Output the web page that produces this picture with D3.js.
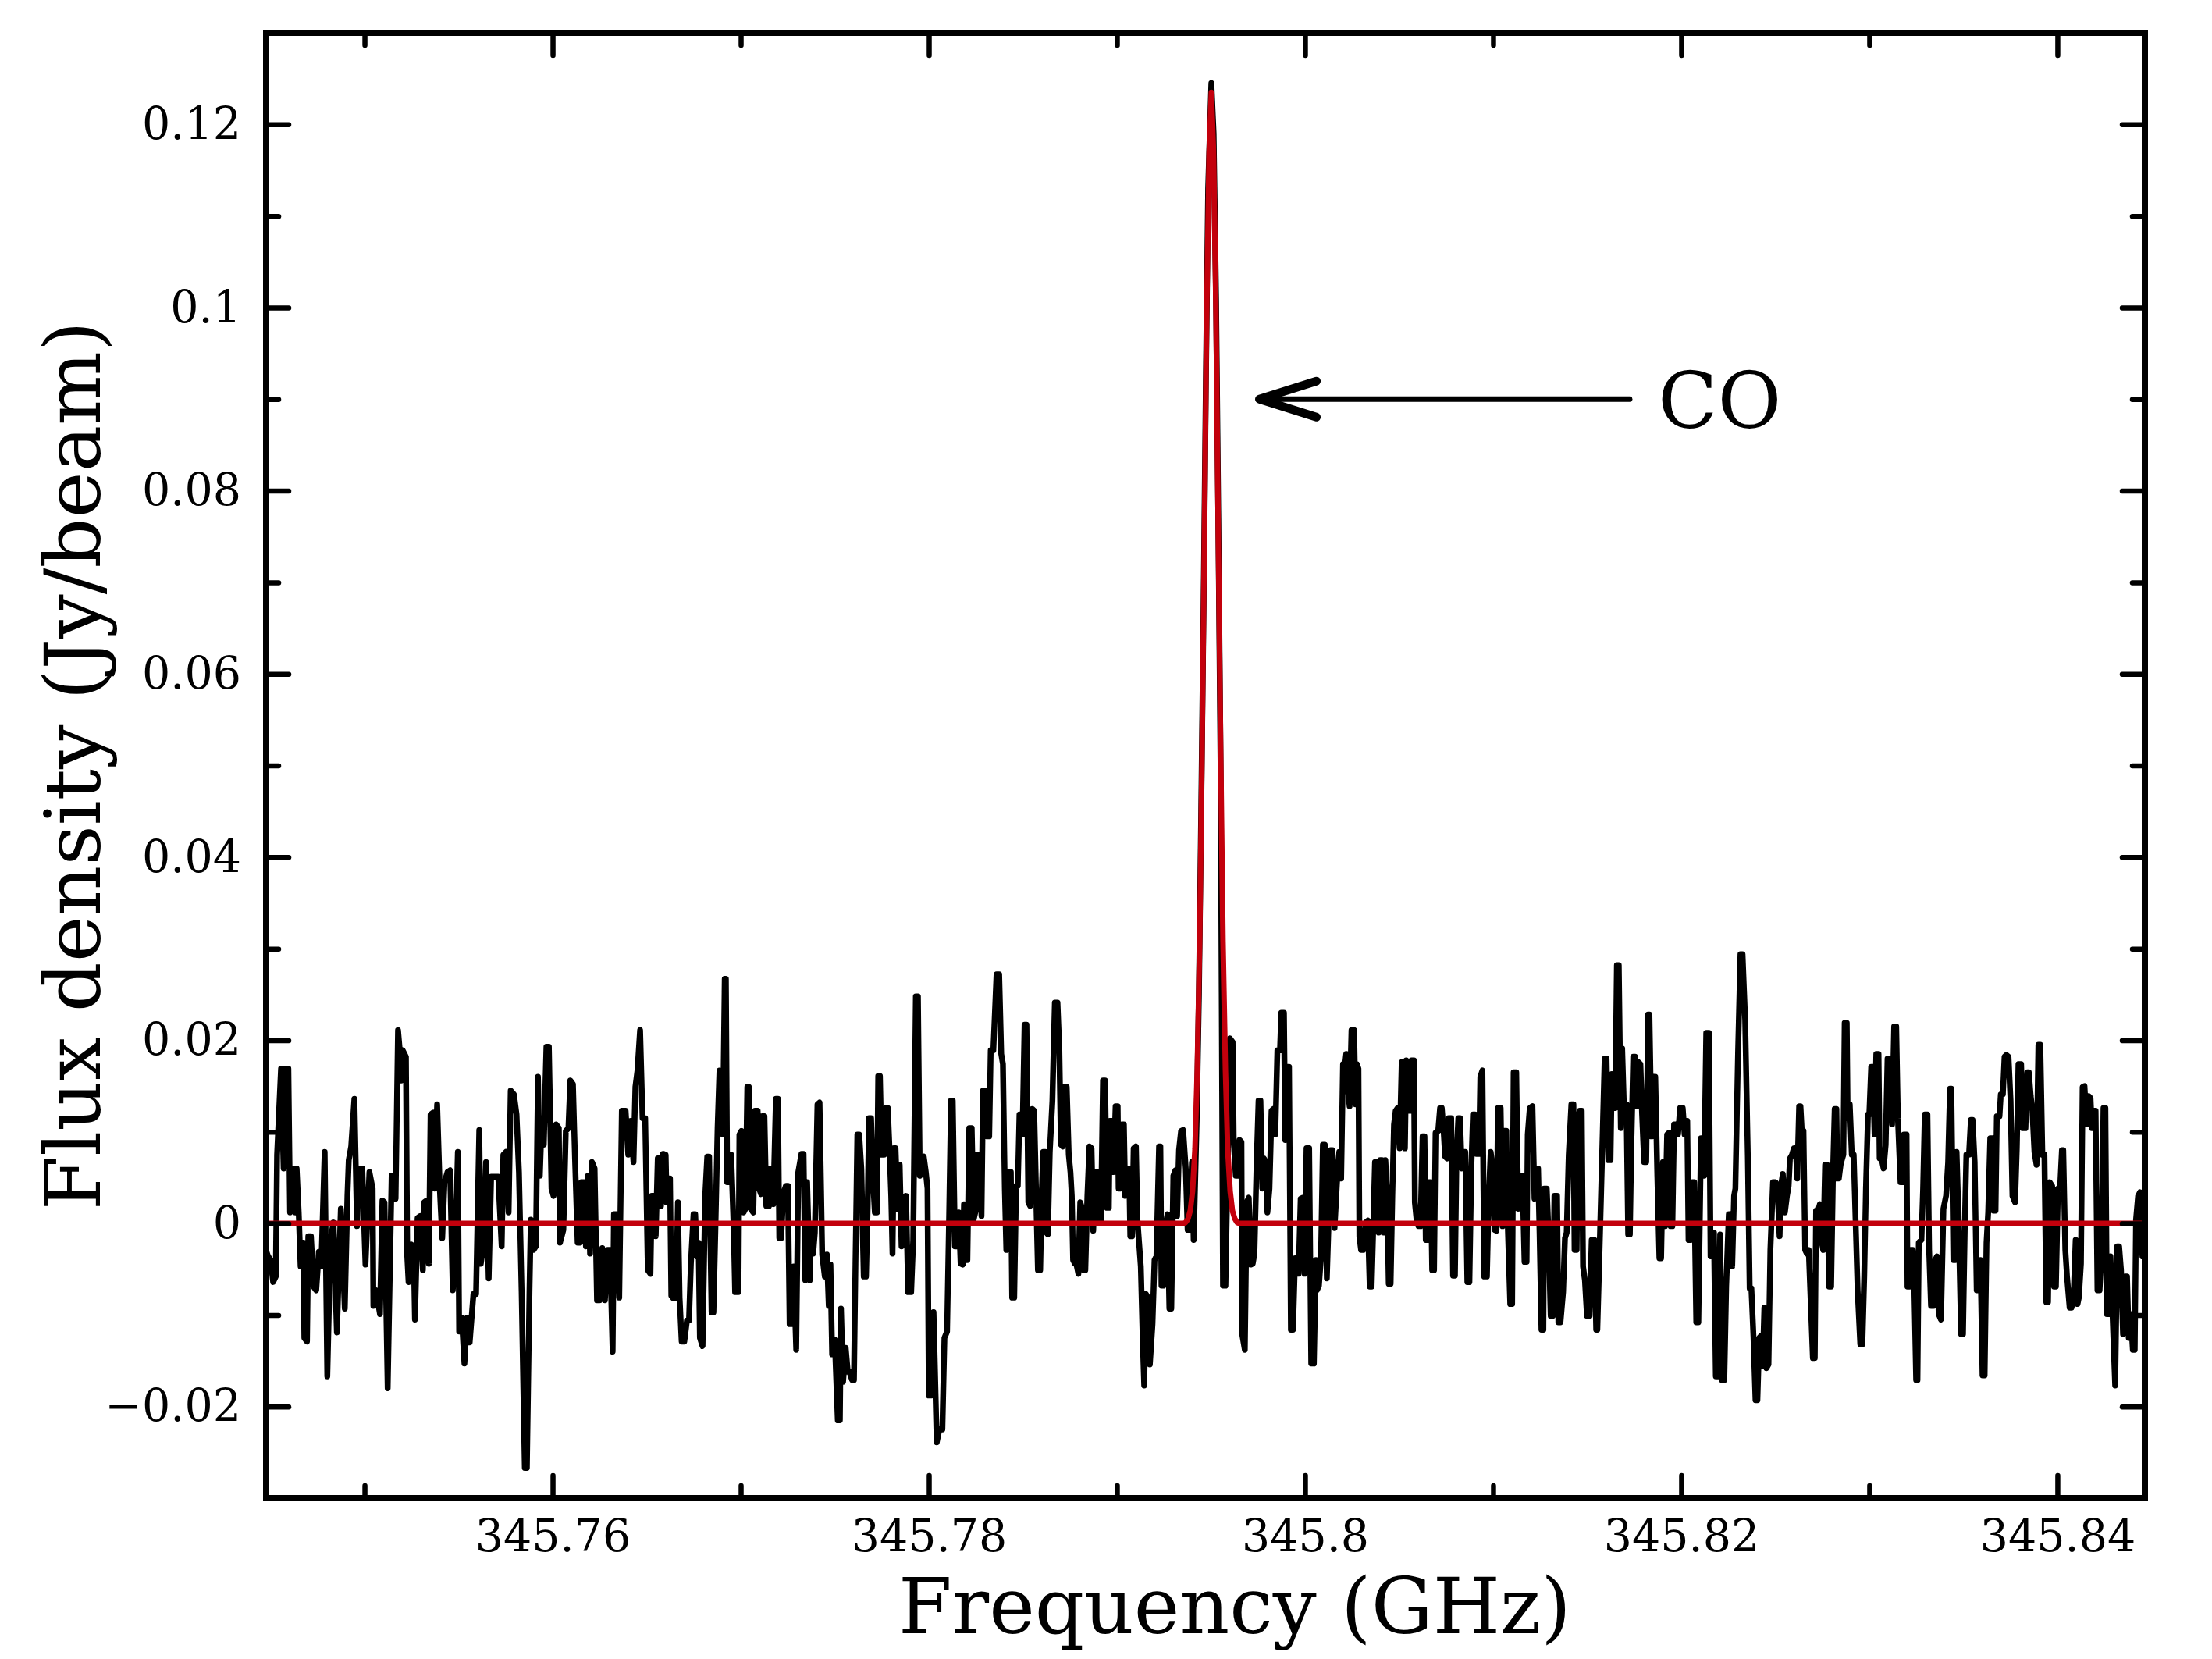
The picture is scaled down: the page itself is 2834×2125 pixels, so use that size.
<!DOCTYPE html>
<html>
<head>
<meta charset="utf-8">
<script src="https://cdn.jsdelivr.net/npm/d3@7/dist/d3.min.js"></script>
<style>
  html, body { margin: 0; padding: 0; background: #ffffff; }
  svg { display: block; }
</style>
</head>
<body>
<svg id="chart" width="2834" height="2125"></svg>
<script>
// ---------------- DATA ----------------
const xDomain = [345.74477, 345.84465];   // Frequency (GHz)
const yDomain = [-0.03, 0.13];            // Flux density (Jy/beam)

const xMajorTicks = [345.76, 345.78, 345.80, 345.82, 345.84];
const xMinorTicks = [345.75, 345.77, 345.79, 345.81, 345.83];
const yMajorTicks = [-0.02, 0, 0.02, 0.04, 0.06, 0.08, 0.10, 0.12];
const yMinorTicks = [-0.01, 0.01, 0.03, 0.05, 0.07, 0.09, 0.11];

const xLabel = "Frequency (GHz)";
const yLabel = "Flux density (Jy/beam)";
const lineLabel = "CO";
const arrowFrom = [345.81726, 0.0900];
const arrowTo   = [345.79745, 0.0900];
const labelAt   = [345.81876, 0.0869];

// observed spectrum, [frequency GHz, flux Jy/beam]
const observedA = [
[345.74477,-0.0030],[345.74487,-0.0036],[345.74501,-0.0040],[345.74514,-0.0064],[345.74528,-0.0058],[345.74535,0.0075],
[345.74556,0.0169],[345.74570,0.0060],[345.74577,0.0169],[345.74595,0.0169],[345.74604,0.0012],[345.74618,0.0060],
[345.74632,0.0012],[345.74639,0.0060],[345.74650,0.0012],[345.74660,-0.0047],[345.74674,-0.0021],[345.74680,-0.0125],
[345.74694,-0.0129],[345.74701,-0.0014],[345.74715,-0.0014],[345.74729,-0.0069],[345.74743,-0.0073],[345.74757,-0.0031],
[345.74770,-0.0047],[345.74788,0.0078],[345.74802,-0.0167],[345.74819,-0.0018],[345.74835,0.0001],[345.74853,-0.0119],
[345.74874,0.0016],[345.74895,-0.0093],[345.74909,0.0030],[345.74916,0.0069],[345.74929,0.0084],[345.74946,0.0136],
[345.74960,-0.0003],[345.74971,0.0060],[345.74988,0.0060],[345.75005,-0.0045],[345.75026,0.0056],[345.75043,0.0038],
[345.75047,-0.0090],[345.75061,-0.0073],[345.75082,-0.0099],[345.75095,0.0025],[345.75106,0.0023],[345.75123,-0.0180],
[345.75144,0.0052],[345.75165,0.0027],[345.75178,0.0211],[345.75189,0.0185],[345.75195,0.0156],[345.75203,0.0189],
[345.75220,0.0182],[345.75227,-0.0036],[345.75234,-0.0064],[345.75248,-0.0023],[345.75261,-0.0025],[345.75268,-0.0105],
[345.75282,0.0006],[345.75296,0.0008],[345.75310,-0.0051],[345.75317,0.0023],[345.75330,0.0025],[345.75342,-0.0044],
[345.75351,0.0119],[345.75365,0.0121],[345.75372,0.0038],[345.75386,0.0130],[345.75400,0.0038],[345.75413,-0.0016],
[345.75425,0.0045],[345.75441,0.0056],[345.75455,0.0058],[345.75469,-0.0073],[345.75483,-0.0031],[345.75496,0.0078],
[345.75503,-0.0118],[345.75517,-0.0103],[345.75531,-0.0153],[345.75545,-0.0103],[345.75559,-0.0130],[345.75579,-0.0077],
[345.75593,-0.0077],[345.75610,0.0102],[345.75618,-0.0044],[345.75635,-0.0020],[345.75646,0.0067],[345.75660,-0.0060],
[345.75673,0.0051],[345.75687,0.0051],[345.75711,0.0051],[345.75729,-0.0025],[345.75738,0.0075],[345.75752,0.0078],
[345.75766,0.0012],[345.75777,0.0145],[345.75794,0.0141],[345.75808,0.0119],[345.75821,0.0056],[345.75835,-0.0073],
[345.75852,-0.0267],[345.75863,-0.0267],[345.75877,-0.0073],[345.75884,0.0004],[345.75898,-0.0029],[345.75911,-0.0025],
[345.75922,0.0160],[345.75932,0.0052],[345.75942,0.0112],[345.75953,0.0086],[345.75967,0.0193],[345.75980,0.0193],
[345.75994,0.0038],[345.76005,0.0030],[345.76019,0.0108],[345.76033,0.0104],[345.76039,-0.0021],[345.76057,-0.0007],
[345.76070,0.0101],[345.76084,0.0104],[345.76094,0.0156],[345.76108,0.0152],[345.76119,0.0071],[345.76133,-0.0021],
[345.76146,-0.0021],[345.76153,0.0045],[345.76167,0.0045],[345.76177,-0.0025],[345.76188,0.0052],[345.76199,-0.0033],
[345.76209,0.0067],[345.76223,0.0060],[345.76236,-0.0084],[345.76250,-0.0084],[345.76264,-0.0027],[345.76278,-0.0084],
[345.76292,-0.0029],[345.76305,-0.0029],[345.76319,-0.0140],[345.76326,0.0010],[345.76340,0.0010],[345.76354,-0.0081],
[345.76368,0.0123],[345.76388,0.0123],[345.76402,0.0075],[345.76416,0.0112],[345.76430,0.0067],[345.76440,0.0149],
[345.76451,0.0167],[345.76465,0.0211],[345.76478,0.0115],[345.76492,0.0115],[345.76506,-0.0051],[345.76520,-0.0055],
[345.76527,0.0030],[345.76541,0.0030]
];

const observedB = [
[345.76548,-0.0014],[345.76559,0.0071],[345.76569,0.0071],[345.76576,0.0019],[345.76587,0.0076],[345.76601,0.0075],
[345.76606,0.0023],[345.76614,0.0049],[345.76624,0.0049],[345.76631,-0.0079],[345.76642,-0.0082],[345.76656,-0.0082],
[345.76666,0.0023],[345.76675,-0.0081],[345.76686,-0.0129],[345.76700,-0.0129],[345.76714,-0.0106],[345.76725,-0.0106],
[345.76735,-0.0044],[345.76749,0.0010],[345.76758,0.0010],[345.76767,-0.0036],[345.76776,-0.0021],[345.76783,-0.0125],
[345.76797,-0.0134],[345.76811,0.0030],[345.76822,0.0073],[345.76832,0.0073],[345.76845,-0.0097],[345.76855,-0.0097],
[345.76866,0.0001],[345.76877,0.0104],[345.76887,0.0167],[345.76894,0.0108],[345.76905,0.0097],[345.76915,0.0267],
[345.76921,0.0267],[345.76928,0.0045],[345.76938,0.0045],[345.76949,0.0075],[345.76963,-0.0007],[345.76970,-0.0075],
[345.76988,-0.0075],[345.76993,0.0097],[345.77004,0.0101],[345.77015,0.0012],[345.77025,0.0016],[345.77035,0.0149],
[345.77043,0.0149],[345.77053,0.0016],[345.77067,0.0012],[345.77076,0.0123],[345.77090,0.0123],[345.77098,0.0038],
[345.77108,0.0032],[345.77115,0.0117],[345.77126,0.0117],[345.77136,0.0019],[345.77150,0.0019],[345.77157,0.0060],
[345.77163,0.0060],[345.77173,0.0021],[345.77187,0.0136],[345.77198,0.0136],[345.77205,-0.0016],[345.77215,-0.0016],
[345.77226,0.0032],[345.77240,0.0041],[345.77251,0.0041],[345.77260,-0.0110],[345.77270,-0.0110],[345.77281,-0.0047],
[345.77295,-0.0138],[345.77306,0.0056],[345.77323,0.0076],[345.77334,0.0076],[345.77343,-0.0062],[345.77353,0.0045],
[345.77367,-0.0062],[345.77375,-0.0003],[345.77385,-0.0033],[345.77394,-0.0010],[345.77408,0.0130],[345.77419,0.0132],
[345.77433,-0.0034],[345.77447,-0.0058],[345.77458,-0.0034],[345.77468,-0.0090],[345.77477,-0.0045],[345.77486,-0.0143],
[345.77500,-0.0127],[345.77516,-0.0215],[345.77527,-0.0215],[345.77533,-0.0093],[345.77544,-0.0173],[345.77558,-0.0136],
[345.77569,-0.0162],[345.77578,-0.0162],[345.77592,-0.0171],[345.77602,-0.0171],[345.77610,-0.0044],[345.77620,0.0097],
[345.77630,0.0097],[345.77641,0.0060],[345.77654,-0.0058],[345.77666,-0.0058],[345.77675,0.0019],[345.77682,0.0115],
[345.77693,0.0115],[345.77703,0.0049],[345.77713,0.0012],[345.77724,0.0012],[345.77731,0.0161],[345.77740,0.0161],
[345.77749,0.0075],[345.77762,0.0075],[345.77772,0.0126],[345.77782,0.0126],[345.77790,0.0086],[345.77800,0.0030],
[345.77807,-0.0033],[345.77814,0.0082],[345.77823,0.0082],[345.77834,0.0016],[345.77845,0.0064],[345.77855,-0.0025],
[345.77869,0.0004],[345.77879,0.0030],[345.77890,-0.0075],[345.77906,-0.0075],[345.77917,-0.0018],[345.77931,0.0248],
[345.77942,0.0248],[345.77952,0.0052],[345.77962,0.0071],[345.77973,0.0073],[345.77984,0.0056],[345.77993,0.0038],
[345.78000,-0.0188],[345.78011,-0.0188],[345.78025,-0.0097],[345.78042,-0.0239],[345.78056,-0.0225],[345.78072,-0.0225],
[345.78083,-0.0125],[345.78097,-0.0118],[345.78108,0.0008],[345.78118,0.0134],[345.78127,0.0134],[345.78139,-0.0025],
[345.78150,-0.0025],[345.78159,0.0012],[345.78169,-0.0044],[345.78180,-0.0045],[345.78187,0.0021],[345.78194,-0.0040],
[345.78205,-0.0040],[345.78215,0.0104],[345.78228,0.0104],[345.78238,0.0004],[345.78249,0.0014],[345.78256,0.0075],
[345.78270,0.0075],[345.78280,0.0008],[345.78288,0.0145],[345.78302,0.0145],[345.78311,0.0095],[345.78321,0.0095],
[345.78329,0.0189],[345.78343,0.0189],[345.78360,0.0272],[345.78374,0.0272],[345.78385,0.0185],[345.78394,0.0174],
[345.78404,0.0038],[345.78412,-0.0029],[345.78422,0.0056],[345.78436,0.0056],[345.78443,-0.0081],[345.78454,-0.0081],
[345.78464,0.0041],[345.78473,0.0041],[345.78482,0.0119],[345.78491,0.0119],[345.78498,0.0097],[345.78509,0.0217],
[345.78519,0.0217],[345.78529,0.0023]
];

const observedC = [
[345.78539,0.0019],[345.78550,0.0125],[345.78560,0.0123],[345.78569,0.0045],[345.78580,-0.0051],[345.78592,-0.0051],
[345.78601,0.0038],[345.78608,0.0078],[345.78619,0.0078],[345.78625,-0.0010],[345.78633,-0.0012],[345.78643,0.0078],
[345.78657,0.0134],[345.78663,0.0185],[345.78670,0.0241],[345.78684,0.0241],[345.78694,0.0189],[345.78702,0.0086],
[345.78712,0.0084],[345.78719,0.0149],[345.78733,0.0149],[345.78744,0.0075],[345.78753,0.0056],[345.78760,0.0030],
[345.78767,-0.0040],[345.78777,-0.0044],[345.78785,-0.0045],[345.78795,-0.0055],[345.78805,0.0023],[345.78816,0.0016],
[345.78823,-0.0051],[345.78832,-0.0051],[345.78843,0.0030],[345.78854,0.0084],[345.78865,0.0082],[345.78874,-0.0008],
[345.78885,0.0056],[345.78896,0.0056],[345.78906,0.0004],[345.78915,0.0004],[345.78926,0.0156],[345.78937,0.0156],
[345.78947,0.0017],[345.78957,0.0017],[345.78962,0.0112],[345.78975,0.0112],[345.78982,0.0056],[345.78993,0.0128],
[345.79004,0.0128],[345.79009,0.0038],[345.79020,0.0038],[345.79026,0.0108],[345.79037,0.0108],[345.79044,0.0030],
[345.79053,0.0060],[345.79065,0.0060],[345.79071,-0.0014],[345.79081,-0.0014],[345.79089,0.0082],[345.79101,0.0084],
[345.79109,0.0004],[345.79127,-0.0047],[345.79137,-0.0125],[345.79145,-0.0177],[345.79154,-0.0077],[345.79164,-0.0081],
[345.79175,-0.0154],[345.79189,-0.0110],[345.79200,-0.0040],[345.79210,-0.0036],[345.79224,0.0084],[345.79231,0.0084],
[345.79237,-0.0068],[345.79247,-0.0068],[345.79258,-0.0003],[345.79269,0.0010],[345.79279,-0.0093],[345.79289,-0.0093],
[345.79300,0.0052],[345.79311,0.0058],[345.79320,0.0008],[345.79330,0.0080],[345.79341,0.0101],[345.79352,0.0102],
[345.79366,0.0060],[345.79376,-0.0007],[345.79385,-0.0007],[345.79399,0.0067]
];

const observedLine = [
[345.79408,-0.0018],[345.79424,0.0112],[345.79436,0.0250],[345.79448,0.0450],[345.79461,0.0680],[345.79473,0.0920],
[345.79485,0.1130],[345.79502,0.1245],[345.79514,0.1190],[345.79527,0.1010],[345.79539,0.0770],[345.79552,0.0480],
[345.79564,-0.0068],[345.79577,-0.0068],[345.79601,0.0202]
];

const observedD = [
[345.79615,0.0198],[345.79621,0.0089],[345.79632,0.0052],[345.79643,0.0052],[345.79652,0.0091],[345.79662,0.0089],
[345.79666,-0.0121],[345.79680,-0.0138],[345.79690,0.0023],[345.79701,0.0028],[345.79712,-0.0045],[345.79722,-0.0044],
[345.79731,-0.0033],[345.79742,0.0060],[345.79753,0.0134],[345.79763,0.0134],[345.79773,0.0038],[345.79781,0.0071],
[345.79791,0.0067],[345.79800,0.0012],[345.79811,0.0038],[345.79822,0.0123],[345.79832,0.0125],[345.79842,0.0097],
[345.79853,0.0189],[345.79867,0.0189],[345.79874,0.0230],[345.79888,0.0230],[345.79895,0.0091],[345.79901,0.0171],
[345.79915,0.0171],[345.79925,-0.0116],[345.79936,-0.0116],[345.79947,-0.0038],[345.79957,-0.0038],[345.79966,-0.0055],
[345.79977,0.0027],[345.79988,0.0028],[345.79998,-0.0055],[345.80008,0.0082],[345.80022,0.0082],[345.80033,-0.0153],
[345.80047,-0.0153],[345.80058,-0.0040],[345.80063,-0.0073],[345.80074,-0.0068],[345.80085,-0.0036],[345.80095,0.0086],
[345.80105,0.0086],[345.80116,-0.0060],[345.80127,0.0012],[345.80136,0.0080],[345.80146,0.0080],[345.80157,-0.0005],
[345.80171,0.0049],[345.80182,0.0078],[345.80192,0.0049],[345.80202,0.0174],[345.80213,0.0174],[345.80219,0.0185],
[345.80229,0.0145],[345.80237,0.0128],[345.80247,0.0211],[345.80261,0.0211],[345.80268,0.0130],[345.80276,0.0174],
[345.80284,0.0169],[345.80289,-0.0014],[345.80298,-0.0029],[345.80309,-0.0029],[345.80323,0.0001],[345.80334,0.0003],
[345.80344,-0.0069],[345.80354,-0.0069],[345.80362,-0.0010],[345.80372,0.0067],[345.80381,0.0067],[345.80392,-0.0010],
[345.80399,0.0069],[345.80409,0.0069],[345.80417,-0.0010],[345.80427,0.0069],[345.80437,0.0030],[345.80445,-0.0066],
[345.80455,-0.0066],[345.80464,0.0030],[345.80473,0.0108],[345.80482,0.0123],[345.80492,0.0126],[345.80503,0.0082],
[345.80514,0.0176],[345.80524,0.0176]
];

const observedE = [
[345.80531,0.0082],[345.80538,0.0178],[345.80548,0.0123],[345.80556,0.0123],[345.80566,0.0178],[345.80579,0.0178],
[345.80584,0.0023],[345.80593,0.0004],[345.80603,-0.0003],[345.80614,-0.0003],[345.80625,0.0095],[345.80635,0.0095],
[345.80642,-0.0018],[345.80653,-0.0018],[345.80658,0.0045],[345.80669,0.0045],[345.80676,-0.0051],[345.80686,-0.0051],
[345.80694,0.0099],[345.80708,0.0101],[345.80718,0.0126],[345.80727,0.0126],[345.80738,0.0097],[345.80745,0.0073],
[345.80755,0.0071],[345.80763,0.0115],[345.80777,0.0115],[345.80787,-0.0057],[345.80797,-0.0057],[345.80805,0.0071],
[345.80815,0.0115],[345.80824,0.0115],[345.80833,0.0060],[345.80842,0.0078],[345.80852,0.0078],[345.80863,-0.0064],
[345.80874,-0.0064],[345.80884,0.0060],[345.80893,0.0119],[345.80904,0.0119],[345.80911,0.0076],[345.80925,0.0076],
[345.80932,0.0160],[345.80943,0.0167],[345.80953,-0.0058],[345.80967,-0.0058],[345.80976,0.0023],[345.80987,0.0078],
[345.80998,0.0060],[345.81008,-0.0007],[345.81018,-0.0008],[345.81026,0.0126],[345.81040,0.0126],[345.81050,-0.0003],
[345.81057,0.0101],[345.81070,0.0101],[345.81077,0.0004],[345.81091,-0.0088],[345.81101,-0.0088],[345.81109,0.0165],
[345.81123,0.0165],[345.81133,0.0016],[345.81142,0.0052],[345.81156,0.0052],[345.81167,-0.0042],[345.81178,-0.0042],
[345.81184,0.0097],[345.81195,0.0126],[345.81209,0.0128],[345.81220,0.0027],[345.81229,0.0060],[345.81239,0.0060],
[345.81247,-0.0010],[345.81257,-0.0116],[345.81267,-0.0116],[345.81271,0.0038],[345.81285,0.0038],[345.81294,-0.0007],
[345.81306,-0.0101],[345.81317,-0.0101],[345.81326,0.0030],[345.81340,0.0030],[345.81347,-0.0108],[345.81358,-0.0108],
[345.81372,-0.0075],[345.81382,-0.0016],[345.81391,-0.0010],[345.81402,0.0075],[345.81416,0.0130],[345.81427,0.0130],
[345.81433,-0.0029],[345.81444,-0.0029],[345.81451,0.0113],[345.81460,0.0123],[345.81471,0.0123],[345.81478,-0.0047],
[345.81488,-0.0062],[345.81499,-0.0101],[345.81513,-0.0101],[345.81524,-0.0018],[345.81538,-0.0018],[345.81548,-0.0116],
[345.81554,-0.0116],[345.81565,-0.0036],[345.81579,0.0071],[345.81593,0.0180],[345.81603,0.0180],[345.81613,0.0069],
[345.81624,0.0069],[345.81631,0.0163],[345.81640,0.0126],[345.81649,0.0126],[345.81658,0.0282],[345.81668,0.0282],
[345.81679,0.0104],[345.81686,0.0191],[345.81695,0.0130],[345.81709,0.0130],[345.81718,-0.0012],[345.81727,-0.0012],
[345.81734,0.0078],[345.81745,0.0182],[345.81755,0.0182],[345.81765,0.0128],[345.81773,0.0176],[345.81783,0.0174],
[345.81792,0.0119],[345.81803,0.0067],[345.81814,0.0067],[345.81824,0.0228],[345.81831,0.0228],[345.81842,0.0095],
[345.81852,0.0160],[345.81862,0.0160],[345.81873,0.0052],[345.81884,-0.0038],[345.81893,-0.0038],[345.81903,0.0067],
[345.81914,-0.0003],[345.81925,0.0097],[345.81935,0.0099],[345.81944,-0.0003],[345.81953,-0.0003],[345.81962,0.0108],
[345.81972,0.0108],[345.81983,0.0097],[345.81994,0.0126],[345.82008,0.0126],[345.82018,0.0097],[345.82032,0.0112],
[345.82039,-0.0018],[345.82050,-0.0018],[345.82059,0.0045],[345.82069,0.0045],[345.82080,-0.0108],[345.82091,-0.0108],
[345.82105,0.0093],[345.82115,0.0093],[345.82122,0.0052],[345.82133,0.0208],[345.82147,0.0208],[345.82156,-0.0036],
[345.82166,-0.0036],[345.82174,-0.0010],[345.82184,-0.0167],[345.82198,-0.0167],[345.82207,-0.0012],[345.82216,-0.0171],
[345.82229,-0.0171],[345.82239,-0.0069],[345.82253,0.0010],[345.82263,0.0010],[345.82271,-0.0047],[345.82281,0.0030],
[345.82288,0.0038],[345.82302,0.0185],[345.82315,0.0294],[345.82326,0.0294],[345.82340,0.0222],[345.82354,0.0075],
[345.82364,-0.0071],[345.82373,-0.0071],[345.82384,-0.0123],[345.82395,-0.0193],[345.82405,-0.0193],[345.82415,-0.0125],
[345.82423,-0.0123],[345.82433,-0.0156],[345.82442,-0.0092],[345.82453,-0.0158],[345.82464,-0.0154],[345.82474,-0.0029],
[345.82488,0.0045],[345.82502,0.0045],[345.82512,0.0038]
];

const observedF = [
[345.82523,-0.0014],[345.82530,0.0041],[345.82540,0.0054],[345.82551,0.0012],[345.82562,0.0030],[345.82571,0.0041],
[345.82578,0.0071],[345.82589,0.0075],[345.82599,0.0082],[345.82609,0.0082],[345.82617,0.0049],[345.82627,0.0128],
[345.82634,0.0128],[345.82641,0.0101],[345.82650,0.0101],[345.82659,-0.0029],[345.82668,-0.0033],[345.82678,-0.0029],
[345.82689,-0.0088],[345.82700,-0.0147],[345.82710,-0.0147],[345.82717,0.0014],[345.82728,0.0014],[345.82737,0.0021],
[345.82747,-0.0020],[345.82755,-0.0029],[345.82765,0.0064],[345.82775,0.0064],[345.82786,-0.0069],[345.82797,-0.0069],
[345.82807,0.0056],[345.82816,0.0125],[345.82825,0.0125],[345.82830,0.0049],[345.82838,0.0049],[345.82848,0.0065],
[345.82862,0.0075],[345.82869,0.0219],[345.82880,0.0219],[345.82885,0.0115],[345.82896,0.0130],[345.82907,0.0075],
[345.82917,0.0075],[345.82927,0.0004],[345.82938,-0.0073],[345.82952,-0.0132],[345.82963,-0.0132],[345.82973,-0.0058],
[345.82982,0.0038],[345.82993,0.0119],[345.83000,0.0119],[345.83010,0.0171],[345.83018,0.0171],[345.83028,0.0097],
[345.83037,0.0185],[345.83049,0.0185],[345.83055,0.0071],[345.83065,0.0071],[345.83076,0.0060],[345.83087,0.0086],
[345.83097,0.0180],[345.83111,0.0180],[345.83121,0.0108],[345.83132,0.0215],[345.83143,0.0215],[345.83152,0.0115],
[345.83166,0.0045],[345.83176,0.0045],[345.83184,0.0097],[345.83198,0.0097],[345.83203,-0.0069],[345.83215,-0.0069],
[345.83221,-0.0029],[345.83231,-0.0029],[345.83239,-0.0068],[345.83249,-0.0171],[345.83256,-0.0171],[345.83263,-0.0021],
[345.83277,-0.0018],[345.83286,0.0038],[345.83295,0.0119],[345.83309,0.0119],[345.83318,-0.0029],[345.83328,-0.0090],
[345.83342,-0.0090],[345.83350,-0.0040],[345.83360,-0.0036],[345.83369,-0.0099],[345.83381,-0.0105],[345.83394,0.0016],
[345.83408,0.0030],[345.83419,0.0067],[345.83429,0.0147],[345.83436,0.0147],[345.83447,-0.0040],[345.83457,-0.0040],
[345.83464,0.0078],[345.83475,0.0001],[345.83488,-0.0121],[345.83498,-0.0121],[345.83508,0.0001],[345.83516,0.0075],
[345.83530,0.0075],[345.83540,0.0113],[345.83549,0.0113],[345.83560,0.0067],[345.83571,-0.0073],[345.83581,-0.0073],
[345.83591,-0.0040],[345.83602,-0.0166],[345.83613,-0.0166],[345.83623,-0.0021],[345.83632,0.0012],[345.83643,0.0093],
[345.83654,0.0093],[345.83660,0.0014],[345.83671,0.0014],[345.83678,0.0117],[345.83692,0.0117],[345.83699,0.0141],
[345.83710,0.0141],[345.83719,0.0182],[345.83729,0.0184],[345.83740,0.0182],[345.83751,0.0134],[345.83761,0.0030],
[345.83775,0.0023],[345.83784,0.0082],[345.83793,0.0174],[345.83807,0.0174],[345.83816,0.0104],[345.83830,0.0104],
[345.83840,0.0165],[345.83848,0.0165],[345.83858,0.0139],[345.83867,0.0123],[345.83878,0.0078],[345.83889,0.0064],
[345.83899,0.0195],[345.83909,0.0195],[345.83920,0.0075],[345.83931,0.0075],[345.83941,-0.0086],[345.83950,-0.0086],
[345.83959,0.0045],[345.83972,0.0041],[345.83982,-0.0069],[345.83992,-0.0069],[345.84003,0.0038],[345.84014,0.0038],
[345.84024,0.0080],[345.84031,0.0080],[345.84042,-0.0029],[345.84051,-0.0058],[345.84065,-0.0092],[345.84075,-0.0092],
[345.84086,-0.0081],[345.84097,-0.0018],[345.84107,-0.0088],[345.84114,-0.0081],[345.84125,-0.0044],[345.84134,0.0149],
[345.84144,0.0150],[345.84155,0.0108],[345.84166,0.0139],[345.84176,0.0137],[345.84183,0.0104],[345.84194,0.0123],
[345.84203,0.0123],[345.84213,-0.0073],[345.84224,-0.0073],[345.84235,-0.0033],[345.84245,0.0126],[345.84255,0.0126],
[345.84263,-0.0099],[345.84273,-0.0099],[345.84282,-0.0036],[345.84293,-0.0099],[345.84307,-0.0177],[345.84318,-0.0025],
[345.84328,-0.0025],[345.84338,-0.0051],[345.84349,-0.0121],[345.84360,-0.0058],[345.84370,-0.0058],[345.84379,-0.0125],
[345.84390,-0.0099],[345.84401,-0.0138],[345.84411,-0.0138],[345.84418,0.0004],[345.84429,0.0030],[345.84439,0.0034],
[345.84445,0.0004],[345.84452,-0.0036],[345.84459,-0.0036],[345.84466,-0.0018]
];

// fitted line profile (red), [frequency GHz, flux Jy/beam]
const fitProfile = [
[345.74477,0],[345.79353,0],[345.79365,0.0001],[345.79378,0.0005],[345.79390,0.0014],[345.79402,0.0035],
[345.79415,0.0081],[345.79427,0.0167],[345.79440,0.0308],[345.79452,0.0508],[345.79465,0.0749],[345.79477,0.0990],
[345.79490,0.1168],[345.79502,0.1235],[345.79514,0.1168],[345.79527,0.0990],[345.79539,0.0749],[345.79552,0.0508],
[345.79564,0.0308],[345.79577,0.0167],[345.79589,0.0081],[345.79602,0.0035],[345.79614,0.0014],[345.79627,0.0005],
[345.79639,0.0001],[345.79651,0],[345.84465,0]
];

// ---------------- CHART ----------------
const W = 2834, H = 2125;
const plot = { left: 341, right: 2748, top: 42, bottom: 1919 };
const FONT = "'DejaVu Serif', 'Liberation Serif', serif";
const RED = "#c3000c";

const svg = d3.select("#chart").attr("viewBox", `0 0 ${W} ${H}`);
svg.append("rect").attr("width", W).attr("height", H).attr("fill", "#ffffff");

const x = d3.scaleLinear().domain(xDomain).range([plot.left, plot.right]);
const y = d3.scaleLinear().domain(yDomain).range([plot.bottom, plot.top]);

svg.append("clipPath").attr("id", "plotClip")
  .append("rect")
  .attr("x", plot.left).attr("y", plot.top)
  .attr("width", plot.right - plot.left).attr("height", plot.bottom - plot.top);

const observed = [].concat(observedA, observedB, observedC, observedLine, observedD, observedE, observedF);

const line = d3.line().x(d => x(d[0])).y(d => y(d[1]));

const gData = svg.append("g").attr("clip-path", "url(#plotClip)");
gData.append("path")
  .datum(observed)
  .attr("d", line)
  .attr("fill", "none")
  .attr("stroke", "#000000")
  .attr("stroke-width", 7.5)
  .attr("stroke-linejoin", "round")
  .attr("stroke-linecap", "round");

gData.append("path")
  .datum(fitProfile)
  .attr("d", line)
  .attr("fill", "none")
  .attr("stroke", RED)
  .attr("stroke-width", 7)
  .attr("stroke-linejoin", "round")
  .attr("stroke-linecap", "round");

// axes (ticks inward on all four sides)
const fmtX = d => String(+d.toFixed(2));
const fmtY = d => (d < 0 ? "\u2212" : "") + String(+Math.abs(d).toFixed(2));

function styleAxis(g) {
  g.select(".domain").remove();
  g.selectAll(".tick line")
    .attr("stroke", "#000").attr("stroke-width", 6.5).attr("stroke-linecap", "round");
  g.selectAll(".tick text")
    .attr("fill", "#000").attr("font-family", FONT).attr("font-size", 57);
  g.attr("font-family", FONT).attr("font-size", 57);
}

const MAJ = 29, MIN = 16;

svg.append("g").attr("transform", `translate(0,${plot.bottom})`)
  .call(d3.axisBottom(x).tickValues(xMajorTicks).tickSize(-MAJ).tickPadding(28).tickFormat(fmtX))
  .call(styleAxis);
svg.append("g").attr("transform", `translate(0,${plot.bottom})`)
  .call(d3.axisBottom(x).tickValues(xMinorTicks).tickSize(-MIN).tickFormat(""))
  .call(styleAxis);
svg.append("g").attr("transform", `translate(0,${plot.top})`)
  .call(d3.axisTop(x).tickValues(xMajorTicks).tickSize(-MAJ).tickFormat(""))
  .call(styleAxis);
svg.append("g").attr("transform", `translate(0,${plot.top})`)
  .call(d3.axisTop(x).tickValues(xMinorTicks).tickSize(-MIN).tickFormat(""))
  .call(styleAxis);

svg.append("g").attr("transform", `translate(${plot.left},0)`)
  .call(d3.axisLeft(y).tickValues(yMajorTicks).tickSize(-MAJ).tickPadding(32).tickFormat(fmtY))
  .call(styleAxis);
svg.append("g").attr("transform", `translate(${plot.left},0)`)
  .call(d3.axisLeft(y).tickValues(yMinorTicks).tickSize(-MIN).tickFormat(""))
  .call(styleAxis);
svg.append("g").attr("transform", `translate(${plot.right},0)`)
  .call(d3.axisRight(y).tickValues(yMajorTicks).tickSize(-MAJ).tickFormat(""))
  .call(styleAxis);
svg.append("g").attr("transform", `translate(${plot.right},0)`)
  .call(d3.axisRight(y).tickValues(yMinorTicks).tickSize(-MIN).tickFormat(""))
  .call(styleAxis);

// frame
svg.append("rect")
  .attr("x", plot.left).attr("y", plot.top)
  .attr("width", plot.right - plot.left).attr("height", plot.bottom - plot.top)
  .attr("fill", "none").attr("stroke", "#000").attr("stroke-width", 8);

// axis labels
svg.append("text")
  .attr("x", 1582).attr("y", 2092)
  .attr("text-anchor", "middle")
  .attr("font-family", FONT).attr("font-size", 99).attr("fill", "#000")
  .text(xLabel);

svg.append("text")
  .attr("transform", `translate(128,${(plot.top + plot.bottom) / 2}) rotate(-90)`)
  .attr("text-anchor", "middle")
  .attr("font-family", FONT).attr("font-size", 100).attr("fill", "#000")
  .text(yLabel);

// annotation arrow + label
const ax0 = x(arrowFrom[0]), ay0 = y(arrowFrom[1]);
const ax1 = x(arrowTo[0]),   ay1 = y(arrowTo[1]);
svg.append("line")
  .attr("x1", ax0).attr("y1", ay0).attr("x2", ax1 + 8).attr("y2", ay1)
  .attr("stroke", "#000").attr("stroke-width", 7).attr("stroke-linecap", "round");
svg.append("path")
  .attr("d", `M${ax1 + 76},${ay1 - 23} L${ax1 + 3},${ay1} L${ax1 + 76},${ay1 + 23}`)
  .attr("fill", "none").attr("stroke", "#000").attr("stroke-width", 11)
  .attr("stroke-linejoin", "round").attr("stroke-linecap", "round");

svg.append("text")
  .attr("x", x(labelAt[0])).attr("y", y(labelAt[1]))
  .attr("font-family", FONT).attr("font-size", 100).attr("fill", "#000")
  .text(lineLabel);
</script>
</body>
</html>
